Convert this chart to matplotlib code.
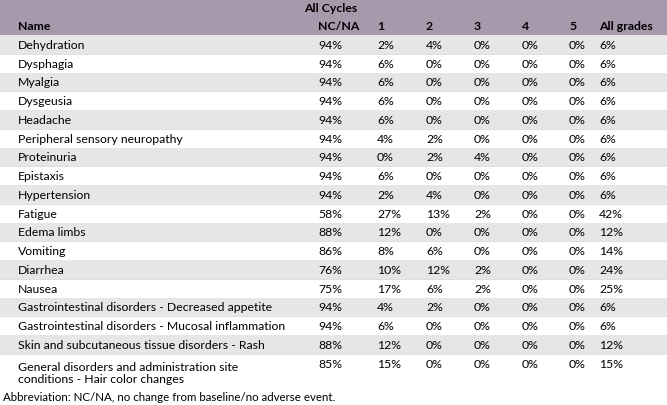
"""Adverse events across all cycles, as a striped table."""

import matplotlib

matplotlib.use("Agg")
import matplotlib.pyplot as plt
from matplotlib.patches import Rectangle

plt.rcParams["font.family"] = ["Lato", "DejaVu Sans"]

NAMES = [
    "Dehydration",
    "Dysphagia",
    "Myalgia",
    "Dysgeusia",
    "Headache",
    "Peripheral sensory neuropathy",
    "Proteinuria",
    "Epistaxis",
    "Hypertension",
    "Fatigue",
    "Edema limbs",
    "Vomiting",
    "Diarrhea",
    "Nausea",
    "Gastrointestinal disorders - Decreased appetite",
    "Gastrointestinal disorders - Mucosal inflammation",
    "Skin and subcutaneous tissue disorders - Rash",
    "General disorders and administration site\nconditions - Hair color changes",
]
NC_NA = [94, 94, 94, 94, 94, 94, 94, 94, 94, 58, 88, 86, 76, 75, 94, 94, 88, 85]
GRADE1 = [2, 6, 6, 6, 6, 4, 0, 6, 2, 27, 12, 8, 10, 17, 4, 6, 12, 15]
GRADE2 = [4, 0, 0, 0, 0, 2, 2, 0, 4, 13, 0, 6, 12, 6, 2, 0, 0, 0]
GRADE3 = [0, 0, 0, 0, 0, 0, 4, 0, 0, 2, 0, 0, 2, 2, 0, 0, 0, 0]
GRADE4 = [0] * 18
GRADE5 = [0] * 18
ALL_GRADES = [6, 6, 6, 6, 6, 6, 6, 6, 6, 42, 12, 14, 24, 25, 6, 6, 12, 15]
HEADERS = ["Name", "NC/NA", "1", "2", "3", "4", "5", "All grades"]

W, H = 667, 406
COL_X = [18, 318, 377, 426, 474, 522, 569, 599]
HEADER_H = 36
ROW_H = 18.75
LAST_ROW_H = 36
HEAD_BG = "#A898AC"
STRIPE = "#E6E6E6"
FS = 8.8


def main():
    fig = plt.figure(figsize=(W / 100, H / 100), dpi=100)
    ax = fig.add_axes([0, 0, 1, 1])
    ax.set_xlim(0, W)
    ax.set_ylim(H, 0)
    ax.axis("off")

    # header band
    ax.add_patch(Rectangle((0, 0), W, HEADER_H, color=HEAD_BG, lw=0))
    ax.text(331, 8, "All Cycles", ha="center", va="center", fontsize=FS, fontweight="bold")
    for x, h in zip(COL_X, HEADERS):
        ax.text(x, 26, h, ha="left", va="center", fontsize=FS, fontweight="bold")

    columns = [NC_NA, GRADE1, GRADE2, GRADE3, GRADE4, GRADE5, ALL_GRADES]
    top = HEADER_H
    for i, name in enumerate(NAMES):
        h = LAST_ROW_H if "\n" in name else ROW_H
        if i % 2 == 0:
            ax.add_patch(Rectangle((0, top), W, h, color=STRIPE, lw=0))
        if i % 2 == 1:
            ax.axhline(top, color="#D9D9D9", lw=0.6)
        if "\n" in name:
            ax.text(COL_X[0], top + 7, name, ha="left", va="top", fontsize=FS, linespacing=1.1)
            yv = top + 9.5
        else:
            ax.text(COL_X[0], top + h / 2, name, ha="left", va="center", fontsize=FS)
            yv = top + h / 2
        for x, col in zip(COL_X[1:], columns):
            ax.text(x, yv, f"{col[i]}%", ha="left", va="center", fontsize=FS)
        top += h

    ax.text(3, 398, "Abbreviation: NC/NA, no change from baseline/no adverse event.",
            ha="left", va="center", fontsize=8.3)

    fig.savefig("out.png", dpi=100)


if __name__ == "__main__":
    main()
